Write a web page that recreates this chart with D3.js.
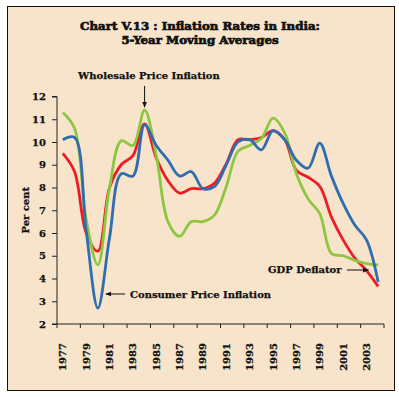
<!DOCTYPE html>
<html>
<head>
<meta charset="utf-8">
<script src="https://cdn.jsdelivr.net/npm/d3@7"></script>
<style>
  body { margin: 0; background: #ffffff; }
  svg text { font-family: "DejaVu Serif", serif; font-weight: bold; fill: #111; stroke: #111; stroke-width: 0.25px; }
  svg text.title { stroke-width: 0.7px; }
  .axis path, .axis line { stroke: #222; }
</style>
</head>
<body>
<svg id="chart" width="399" height="397"></svg>
<script>
// Years on the category axis
const years = d3.range(1977, 2005);

// 5-year moving averages (per cent)
const cpi = [10.1, 10.2, 6.1, 2.7, 5.8, 8.6, 8.5, 10.75, 9.85, 9.2, 8.5, 8.7, 7.95, 8.05, 9.0, 10.0, 10.1, 9.65, 10.5, 10.1, 9.2, 8.85, 9.95, 8.5, 7.3, 6.35, 5.7, 3.85];
const gdpDeflator = [9.5, 8.7, 6.0, 5.2, 8.0, 9.0, 9.4, 10.8, 9.3, 8.3, 7.75, 7.95, 7.95, 8.2, 9.05, 10.1, 10.1, 10.2, 10.5, 10.1, 8.75, 8.45, 8.05, 6.7, 5.7, 4.9, 4.35, 3.65];
const wpi = [11.3, 10.6, 6.6, 4.6, 8.0, 10.05, 9.85, 11.4, 9.4, 6.5, 5.85, 6.5, 6.5, 6.8, 8.05, 9.6, 9.85, 10.15, 11.05, 10.4, 8.6, 7.5, 6.85, 5.1, 5.0, 4.8, 4.65, 4.6];

const yTicks = d3.range(2, 13);
const xTickLabels = years.filter((y) => (y - 1977) % 2 === 0);

const svg = d3.select('#chart');

// Beige panel with thin border
svg.append('rect')
    .attr('x', 7.5).attr('y', 6.5)
    .attr('width', 387).attr('height', 384)
    .attr('fill', '#F7E4CA')
    .attr('stroke', '#111').attr('stroke-width', 1);

// Title
svg.append('text').attr('class', 'title').attr('x', 200).attr('y', 30).attr('text-anchor', 'middle')
    .attr('font-size', 11.8).text('Chart V.13 : Inflation Rates in India:');
svg.append('text').attr('class', 'title').attr('x', 200).attr('y', 44).attr('text-anchor', 'middle')
    .attr('font-size', 11.8).text('5-Year Moving Averages');

const plot = { left: 57, right: 384, top: 96.5, bottom: 324 };

// Category axis: each year is a band, ticks every two bands
const x = d3.scaleBand().domain(years).range([plot.left, plot.right]);
const y = d3.scaleLinear().domain([2, 12]).range([plot.bottom, plot.top]);

const cx = (yr) => x(yr) + x.bandwidth() / 2;

// Y axis
const yAxis = svg.append('g').attr('class', 'axis')
    .attr('transform', `translate(${plot.left},0)`)
    .call(d3.axisLeft(y).tickValues(yTicks).tickSize(5).tickPadding(6));
yAxis.select('.domain').attr('d', `M-5,${y(12)}H0V${y(2)}H-5`);
yAxis.selectAll('text').attr('font-size', 10).attr('font-family', '"DejaVu Serif", serif').attr('font-weight', 'bold');

// X axis ticks at band edges every two years
const edgeTicks = d3.range(0, years.length + 1, 2).map((i) => plot.left + i * x.bandwidth());
const xAxis = svg.append('g').attr('class', 'axis');
xAxis.append('line')
    .attr('x1', plot.left).attr('x2', plot.right)
    .attr('y1', plot.bottom).attr('y2', plot.bottom)
    .attr('stroke', '#222');
xAxis.selectAll('.tk').data(edgeTicks).join('line')
    .attr('class', 'tk')
    .attr('x1', (d) => d).attr('x2', (d) => d)
    .attr('y1', plot.bottom).attr('y2', plot.bottom + 4)
    .attr('stroke', '#222');
xAxis.selectAll('.lbl').data(xTickLabels).join('text')
    .attr('class', 'lbl')
    .attr('font-size', 10)
    .attr('text-anchor', 'end')
    .attr('transform', (d) => `translate(${cx(d) + 3.5},${plot.bottom + 19}) rotate(-90)`)
    .text((d) => d);

// Y label
svg.append('text')
    .attr('transform', `translate(29,${(plot.top + plot.bottom) / 2}) rotate(-90)`)
    .attr('text-anchor', 'middle').attr('font-size', 10)
    .text('Per cent');

// Series
const line = d3.line()
    .x((d, i) => cx(years[i]))
    .y((d) => y(d))
    .curve(d3.curveCatmullRom.alpha(0.5));

const series = [
    { name: 'GDP Deflator', values: gdpDeflator, color: '#EE1C25' },
    { name: 'Wholesale Price Inflation', values: wpi, color: '#8DC63F' },
    { name: 'Consumer Price Inflation', values: cpi, color: '#2F6DB0' },
];

svg.append('g').selectAll('path').data(series).join('path')
    .attr('d', (d) => line(d.values))
    .attr('fill', 'none')
    .attr('stroke', (d) => d.color)
    .attr('stroke-width', 2.8)
    .attr('stroke-linejoin', 'round');

// Annotations with arrows
svg.append('defs').append('marker')
    .attr('id', 'arrow').attr('viewBox', '0 0 10 10')
    .attr('refX', 9).attr('refY', 5)
    .attr('markerWidth', 6).attr('markerHeight', 6)
    .attr('orient', 'auto')
    .append('path').attr('d', 'M0,1L10,5L0,9Z').attr('fill', '#111');

function annotate(text, tx, ty, x1, y1, x2, y2) {
    svg.append('text').attr('x', tx).attr('y', ty).attr('font-size', 10).text(text);
    svg.append('line')
        .attr('x1', x1).attr('y1', y1).attr('x2', x2).attr('y2', y2)
        .attr('stroke', '#111').attr('stroke-width', 1)
        .attr('marker-end', 'url(#arrow)');
}

const wpiPeak = cx(1984);
annotate('Wholesale Price Inflation', 78, 79, wpiPeak, 86, wpiPeak, y(11.4) - 3);
annotate('Consumer Price Inflation', 130, 298, 125, 294, cx(1980) + 8, 294);
annotate('GDP Deflator', 268, 273, 347, 270, cx(2003) + 2, 270);
</script>
</body>
</html>
